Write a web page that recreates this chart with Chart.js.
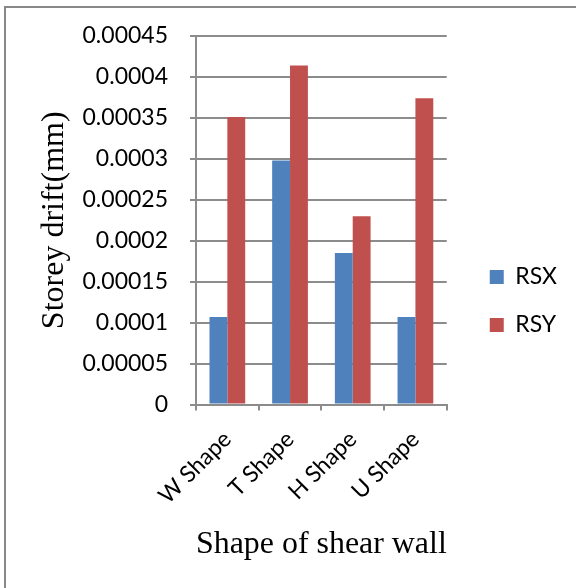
<!DOCTYPE html>
<html>
<head>
<meta charset="utf-8">
<script src="https://cdn.jsdelivr.net/npm/chart.js@4.4.1/dist/chart.umd.min.js"></script>
<style>
  body { margin: 0; background: #fff; }
  #wrap { position: relative; width: 576px; height: 588px; overflow: hidden; }
  #frame { position: absolute; left: 4px; top: 6px; width: 600px; height: 600px; border: 2px solid #888; pointer-events: none; }
  canvas { position: absolute; left: 0; top: 0; }
</style>
</head>
<body>
<div id="wrap">
  <canvas id="driftChart" width="576" height="588"></canvas>
  <div id="frame"></div>
</div>
<script>
// storey drift per shear wall shape
const shapes = ["W Shape", "T Shape", "H Shape", "U Shape"];
const rsx = [0.000107, 0.000298, 0.000185, 0.000107];
const rsy = [0.000351, 0.000414, 0.00023, 0.000374];
const yMax = 0.00045;
const yStep = 0.00005;

const gridGray = "#8c8c8c";
const tickFont = { family: "Lato", size: 23 };
const titleFont = { family: "Liberation Serif", size: 32 };

function drawChart() {
  const ctx = document.getElementById("driftChart").getContext("2d");

  new Chart(ctx, {
    type: "bar",
    data: {
      labels: shapes,
      datasets: [
        { label: "RSX", data: rsx, backgroundColor: "#4F81BD" },
        { label: "RSY", data: rsy, backgroundColor: "#C0504D" },
      ],
    },
    options: {
      responsive: false,
      animation: false,
      datasets: {
        bar: { categoryPercentage: 0.57, barPercentage: 1.0, borderWidth: 0 },
      },
      layout: { padding: { left: 0, top: 36, right: 9, bottom: 22 } },
      plugins: {
        tooltip: { enabled: false },
        legend: {
          position: "right",
          align: "center",
          maxWidth: 150,
          labels: {
            boxWidth: 14,
            boxHeight: 14,
            padding: 25,
            color: "#000",
            font: tickFont,
          },
        },
      },
      scales: {
        x: {
          grid: {
            display: true,
            drawOnChartArea: false,
            drawTicks: true,
            tickLength: 6,
            color: gridGray,
            lineWidth: 2,
          },
          border: { display: true, color: gridGray, width: 2 },
          ticks: {
            color: "#000",
            font: tickFont,
            minRotation: 45,
            maxRotation: 45,
            autoSkip: false,
            padding: 15,
          },
          title: {
            display: true,
            text: "Shape of shear wall",
            color: "#000",
            font: titleFont,
            padding: { top: 1, bottom: 2 },
          },
        },
        y: {
          min: 0,
          max: yMax,
          grid: { color: gridGray, lineWidth: 2, tickLength: 6 },
          border: { display: true, color: gridGray, width: 2 },
          ticks: {
            stepSize: yStep,
            color: "#000",
            font: tickFont,
            padding: 22,
            callback: (v) => String(Number(v.toFixed(5))),
          },
          title: {
            display: true,
            text: "Storey drift(mm)",
            color: "#000",
            font: titleFont,
            padding: { top: 35, bottom: 4 },
          },
          // room for the title plus the long tick labels
          afterFit: (scale) => { scale.width = 196; },
        },
        // empty right axis, only keeps a gap before the legend
        gap: {
          type: "linear",
          position: "right",
          display: true,
          grid: { display: false },
          border: { display: false },
          ticks: { display: false },
          afterFit: (scale) => { scale.width = 18; },
        },
      },
    },
  });
}

Promise.all([
  document.fonts.load('23px "Lato"'),
  document.fonts.load('32px "Liberation Serif"'),
]).then(drawChart, drawChart);
</script>
</body>
</html>
